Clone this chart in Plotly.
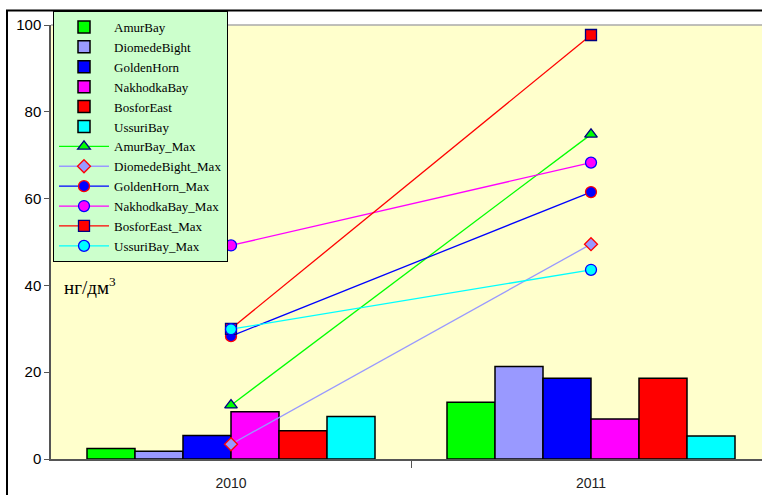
import plotly.graph_objects as go

years = ["2010", "2011"]
x_pos = [0, 1]

sites = ["AmurBay", "DiomedeBight", "GoldenHorn", "NakhodkaBay", "BosforEast", "UssuriBay"]
fill_colors = ["#00FF00", "#9999FF", "#0000FF", "#FF00FF", "#FF0000", "#00FFFF"]

# mean concentrations (bars), ng/dm3
amur_mean = [2.4, 13.1]
diomede_mean = [1.8, 21.3]
golden_mean = [5.4, 18.6]
nakhodka_mean = [10.9, 9.2]
bosfor_mean = [6.5, 18.6]
ussuri_mean = [9.8, 5.3]

# maximum concentrations (lines), ng/dm3
amur_max = [12.4, 74.8]
diomede_max = [3.4, 49.5]
golden_max = [28.3, 61.5]
nakhodka_max = [49.2, 68.3]
bosfor_max = [30.0, 97.7]
ussuri_max = [29.9, 43.6]

y_ticks = [0, 20, 40, 60, 80, 100]

means = [amur_mean, diomede_mean, golden_mean, nakhodka_mean, bosfor_mean, ussuri_mean]
maxes = [amur_max, diomede_max, golden_max, nakhodka_max, bosfor_max, ussuri_max]

marker_symbols = ["triangle-up", "diamond", "circle", "circle", "square", "circle"]
marker_edges = ["#000080", "#FF0000", "#FF0000", "#0000FF", "#000080", "#0000FF"]
marker_sizes = [11, 10, 11, 11, 11, 11]

fig = go.Figure()

for name, vals, col in zip(sites, means, fill_colors):
    fig.add_trace(go.Bar(
        x=x_pos, y=vals, name=name,
        marker=dict(color=col, line=dict(color="#000000", width=1.5)),
    ))

for name, vals, col, sym, edge, sz in zip(sites, maxes, fill_colors, marker_symbols,
                                          marker_edges, marker_sizes):
    fig.add_trace(go.Scatter(
        x=x_pos, y=vals, name=name + "_Max", mode="lines+markers",
        line=dict(color=col, width=1.3),
        marker=dict(symbol=sym, size=sz, color=col, line=dict(color=edge, width=1.3)),
    ))

W, H = 762, 495
L, R, T, B = 51, 0, 25, 36
plot_w = W - L - R
plot_h = H - T - B
px_per_cat = 360.0

def px_x(p):
    return (p - L) / plot_w

def px_y(p):
    return (H - B - p) / plot_h

fig.update_layout(
    width=W, height=H,
    margin=dict(l=L, r=R, t=T, b=B, pad=0),
    paper_bgcolor="#FFFFFF",
    plot_bgcolor="#FFFFCC",
    barmode="group", bargap=0.2, bargroupgap=0,
    font=dict(family="Liberation Sans, Arial", color="#000000"),
    xaxis=dict(
        range=[-0.5, -0.5 + plot_w / px_per_cat],
        tickvals=x_pos, ticktext=years,
        ticks="outside", ticklen=10, tickcolor="rgba(0,0,0,0)",
        tickfont=dict(family="Liberation Sans, Arial", size=14, color="#222222"),
        minor=dict(tickvals=[0.5], ticks="outside", ticklen=7, tickcolor="#555555", tickwidth=1),
        showline=True, linecolor="#555555", linewidth=1.5,
        showgrid=False, zeroline=False, fixedrange=True,
    ),
    yaxis=dict(
        range=[0, 100], tickvals=y_ticks,
        ticks="outside", ticklen=5, tickcolor="#555555", tickwidth=1.3,
        tickfont=dict(family="Liberation Sans, Arial", size=15, color="#000000"),
        showline=True, linecolor="#555555", linewidth=1.5,
        showgrid=False, zeroline=False, fixedrange=True,
    ),
    legend=dict(
        x=px_x(53), y=px_y(11), xanchor="left", yanchor="top",
        bgcolor="#CCFFCC", bordercolor="#000000", borderwidth=1,
        font=dict(family="Liberation Serif, Times New Roman", size=13, color="#000000"),
        tracegroupgap=0, itemwidth=50, maxheight=480,
    ),
    showlegend=True,
    shapes=[
        # outer frame of the chart
        dict(type="rect", xref="paper", yref="paper",
             x0=px_x(7), x1=px_x(W + 20), y0=px_y(H + 20), y1=px_y(10.5),
             line=dict(color="#000000", width=2), fillcolor="rgba(0,0,0,0)", layer="below"),
        # top edge of the plotting area
        dict(type="line", xref="paper", yref="paper", x0=0, x1=1, y0=1, y1=1,
             line=dict(color="#AAAAAA", width=1.5)),
    ],
    annotations=[
        dict(text="нг/дм<sup>3</sup>", xref="paper", yref="paper",
             x=px_x(62), y=px_y(286), xanchor="left", yanchor="middle",
             showarrow=False,
             font=dict(family="Liberation Serif, Times New Roman", size=19, color="#000000")),
    ],
)

fig.write_html("out.html")
